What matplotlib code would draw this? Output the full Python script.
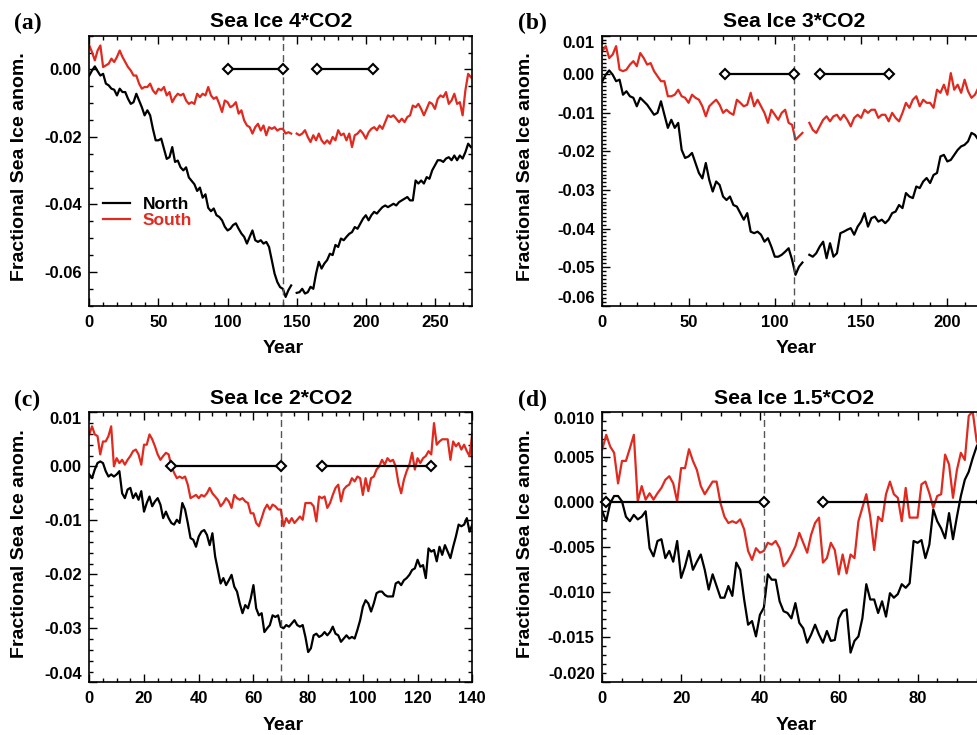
import numpy as np
import matplotlib
matplotlib.use('Agg')
import matplotlib.pyplot as plt
from matplotlib.ticker import MultipleLocator, FormatStrFormatter

plt.rcParams['font.family'] = ['Liberation Sans', 'DejaVu Sans']
plt.rcParams['font.weight'] = 'bold'

nan = np.nan
RED = '#e0291f'

# ---------------- Panel (a): Sea Ice 4*CO2 (every 2 years) ----------------
years_a = np.arange(0, 277, 2)
north_a = [
    -0.0018, -0.0003, 0.0009, -0.0005, -0.0018, -0.0013, -0.0042, -0.0047, -0.0057, -0.0060,
    -0.0077, -0.0057, -0.0067, -0.0067, -0.0087, -0.0102, -0.0097, -0.0072, -0.0092, -0.0112,
    -0.0136, -0.0121, -0.0136, -0.0176, -0.0210, -0.0210, -0.0205, -0.0235, -0.0265, -0.0260,
    -0.0230, -0.0274, -0.0270, -0.0290, -0.0299, -0.0290, -0.0320, -0.0330, -0.0340, -0.0360,
    -0.0350, -0.0380, -0.0370, -0.0410, -0.0420, -0.0412, -0.0432, -0.0437, -0.0447, -0.0466,
    -0.0477, -0.0472, -0.0461, -0.0456, -0.0472, -0.0486, -0.0496, -0.0516, -0.0496, -0.0477,
    -0.0506, -0.0511, -0.0506, -0.0516, -0.0511, -0.0526, -0.0566, -0.0605, -0.0630, -0.0645,
    -0.0650, -0.0674, -0.0654, -0.0640, nan, -0.0662, -0.0660, -0.0650, -0.0664, -0.0660,
    -0.0644, -0.0650, -0.0605, -0.0570, -0.0590, -0.0575, -0.0565, -0.0546, -0.0550, -0.0520,
    -0.0526, -0.0501, -0.0506, -0.0496, -0.0487, -0.0482, -0.0467, -0.0472, -0.0457, -0.0442,
    -0.0432, -0.0447, -0.0432, -0.0422, -0.0427, -0.0417, -0.0408, -0.0403, -0.0408, -0.0403,
    -0.0398, -0.0403, -0.0393, -0.0388, -0.0383, -0.0378, -0.0388, -0.0388, -0.0329, -0.0338,
    -0.0329, -0.0338, -0.0319, -0.0324, -0.0299, -0.0284, -0.0269, -0.0269, -0.0274, -0.0264,
    -0.0260, -0.0269, -0.0255, -0.0269, -0.0255, -0.0264, -0.0245, -0.0220, -0.0230]
south_a = [
    0.0071, 0.0051, 0.0027, 0.0056, 0.0071, 0.0007, 0.0012, 0.0017, 0.0032, 0.0022,
    0.0037, 0.0056, 0.0037, 0.0022, 0.0007, -0.0003, -0.0018, -0.0018, -0.0042, -0.0057,
    -0.0052, -0.0052, -0.0042, -0.0062, -0.0072, -0.0057, -0.0062, -0.0052, -0.0077, -0.0067,
    -0.0097, -0.0082, -0.0072, -0.0077, -0.0072, -0.0092, -0.0102, -0.0097, -0.0102, -0.0072,
    -0.0082, -0.0072, -0.0077, -0.0052, -0.0077, -0.0087, -0.0082, -0.0102, -0.0126, -0.0092,
    -0.0097, -0.0112, -0.0107, -0.0097, -0.0131, -0.0121, -0.0151, -0.0166, -0.0171, -0.0190,
    -0.0171, -0.0161, -0.0181, -0.0166, -0.0195, -0.0171, -0.0176, -0.0171, -0.0181, -0.0176,
    -0.0176, -0.0190, -0.0186, -0.0190, nan, -0.0190, -0.0195, -0.0190, -0.0180, -0.0200,
    -0.0215, -0.0195, -0.0210, -0.0190, -0.0210, -0.0220, -0.0210, -0.0220, -0.0200, -0.0210,
    -0.0180, -0.0195, -0.0190, -0.0210, -0.0190, -0.0230, -0.0195, -0.0190, -0.0180, -0.0190,
    -0.0205, -0.0186, -0.0176, -0.0171, -0.0180, -0.0166, -0.0176, -0.0156, -0.0136, -0.0141,
    -0.0136, -0.0146, -0.0156, -0.0146, -0.0156, -0.0141, -0.0136, -0.0107, -0.0112, -0.0102,
    -0.0117, -0.0136, -0.0117, -0.0097, -0.0102, -0.0117, -0.0087, -0.0077, -0.0082, -0.0067,
    -0.0102, -0.0092, -0.0072, -0.0102, -0.0097, -0.0136, -0.0062, -0.0013, -0.0023]

# ---------------- Panel (b): Sea Ice 3*CO2 (every 2 years) ----------------
years_b = np.arange(0, 223, 2)
north_b = [
    -0.0018, -0.0001, 0.0010, -0.0001, -0.0018, -0.0014, -0.0053, -0.0044, -0.0057, -0.0061,
    -0.0083, -0.0061, -0.0070, -0.0079, -0.0092, -0.0105, -0.0100, -0.0070, -0.0105, -0.0139,
    -0.0118, -0.0139, -0.0126, -0.0196, -0.0217, -0.0213, -0.0204, -0.0230, -0.0256, -0.0270,
    -0.0230, -0.0274, -0.0304, -0.0278, -0.0287, -0.0317, -0.0326, -0.0317, -0.0339, -0.0343,
    -0.0360, -0.0377, -0.0360, -0.0408, -0.0412, -0.0408, -0.0416, -0.0434, -0.0425, -0.0447,
    -0.0473, -0.0473, -0.0468, -0.0460, -0.0451, -0.0481, -0.0520, -0.0499, -0.0488, nan,
    -0.0468, -0.0473, -0.0464, -0.0447, -0.0434, -0.0477, -0.0438, -0.0473, -0.0464, -0.0412,
    -0.0408, -0.0403, -0.0399, -0.0416, -0.0395, -0.0382, -0.0360, -0.0395, -0.0373, -0.0369,
    -0.0382, -0.0377, -0.0386, -0.0377, -0.0360, -0.0356, -0.0339, -0.0347, -0.0308, -0.0317,
    -0.0321, -0.0291, -0.0295, -0.0278, -0.0269, -0.0282, -0.0261, -0.0256, -0.0213, -0.0209,
    -0.0226, -0.0222, -0.0209, -0.0196, -0.0187, -0.0183, -0.0174, -0.0152, -0.0157, -0.0170,
    -0.0165, -0.0160]
south_b = [
    0.0060, 0.0073, 0.0042, 0.0051, 0.0073, 0.0012, 0.0008, 0.0012, 0.0025, 0.0034,
    0.0021, 0.0055, 0.0042, 0.0025, 0.0029, 0.0008, -0.0005, -0.0018, -0.0018, -0.0057,
    -0.0057, -0.0053, -0.0040, -0.0057, -0.0061, -0.0074, -0.0053, -0.0061, -0.0066, -0.0083,
    -0.0109, -0.0083, -0.0074, -0.0066, -0.0079, -0.0100, -0.0092, -0.0100, -0.0105, -0.0066,
    -0.0074, -0.0083, -0.0079, -0.0048, -0.0083, -0.0066, -0.0083, -0.0100, -0.0126, -0.0092,
    -0.0105, -0.0118, -0.0100, -0.0092, -0.0126, -0.0131, -0.0170, -0.0161, -0.0152, nan,
    -0.0126, -0.0144, -0.0152, -0.0135, -0.0118, -0.0109, -0.0122, -0.0109, -0.0105, -0.0118,
    -0.0105, -0.0118, -0.0135, -0.0113, -0.0105, -0.0113, -0.0092, -0.0100, -0.0092, -0.0092,
    -0.0113, -0.0105, -0.0105, -0.0122, -0.0100, -0.0113, -0.0122, -0.0100, -0.0074, -0.0087,
    -0.0066, -0.0057, -0.0083, -0.0066, -0.0074, -0.0074, -0.0087, -0.0040, -0.0048, -0.0027,
    -0.0053, 0.0003, -0.0040, -0.0027, -0.0048, -0.0014, -0.0044, -0.0061, -0.0053, -0.0035,
    -0.0040, -0.0030]

# ---------------- Panel (c): Sea Ice 2*CO2 (annual) ----------------
years_c = np.arange(0, 141)
north_c = [
    -0.0015, -0.0022, -0.0006, 0.0006, 0.0009, 0.0006, -0.0009, -0.0019, -0.0015, -0.0019,
    -0.0015, -0.0009, -0.0050, -0.0059, -0.0043, -0.0040, -0.0059, -0.0050, -0.0062, -0.0046,
    -0.0084, -0.0068, -0.0056, -0.0074, -0.0065, -0.0059, -0.0071, -0.0096, -0.0084, -0.0096,
    -0.0105, -0.0108, -0.0099, -0.0105, -0.0068, -0.0080, -0.0105, -0.0133, -0.0136, -0.0149,
    -0.0130, -0.0121, -0.0118, -0.0127, -0.0146, -0.0124, -0.0167, -0.0192, -0.0217, -0.0207,
    -0.0220, -0.0211, -0.0201, -0.0223, -0.0232, -0.0254, -0.0272, -0.0257, -0.0263, -0.0245,
    -0.0220, -0.0263, -0.0276, -0.0272, -0.0307, -0.0300, -0.0294, -0.0276, -0.0279, -0.0276,
    -0.0297, -0.0300, -0.0294, -0.0297, -0.0291, -0.0285, -0.0294, -0.0297, -0.0294, -0.0316,
    -0.0344, -0.0337, -0.0313, -0.0310, -0.0316, -0.0313, -0.0307, -0.0313, -0.0307, -0.0297,
    -0.0310, -0.0313, -0.0325, -0.0319, -0.0313, -0.0319, -0.0316, -0.0319, -0.0303, -0.0285,
    -0.0260, -0.0248, -0.0254, -0.0269, -0.0254, -0.0235, -0.0232, -0.0232, -0.0238, -0.0241,
    -0.0241, -0.0241, -0.0217, -0.0214, -0.0220, -0.0211, -0.0207, -0.0201, -0.0192, -0.0189,
    -0.0173, -0.0186, -0.0183, -0.0207, -0.0152, -0.0158, -0.0155, -0.0176, -0.0149, -0.0164,
    -0.0146, -0.0158, -0.0170, -0.0149, -0.0130, -0.0108, -0.0111, -0.0108, -0.0096, -0.0121,
    -0.0108]
south_c = [
    0.0059, 0.0074, 0.0059, 0.0056, 0.0022, 0.0046, 0.0046, 0.0056, 0.0074, 0.0000,
    0.0015, 0.0006, 0.0012, 0.0003, 0.0012, 0.0019, 0.0028, 0.0031, 0.0022, 0.0003,
    0.0040, 0.0040, 0.0059, 0.0050, 0.0037, 0.0022, 0.0012, 0.0019, 0.0025, 0.0022,
    0.0000, -0.0012, -0.0022, -0.0019, -0.0022, -0.0019, -0.0034, -0.0059, -0.0056, -0.0053,
    -0.0059, -0.0053, -0.0056, -0.0050, -0.0040, -0.0050, -0.0056, -0.0062, -0.0074, -0.0068,
    -0.0059, -0.0065, -0.0077, -0.0053, -0.0059, -0.0062, -0.0059, -0.0065, -0.0068, -0.0087,
    -0.0087, -0.0105, -0.0111, -0.0096, -0.0080, -0.0071, -0.0080, -0.0071, -0.0074, -0.0080,
    -0.0080, -0.0111, -0.0096, -0.0105, -0.0096, -0.0105, -0.0099, -0.0093, -0.0099, -0.0068,
    -0.0068, -0.0068, -0.0074, -0.0102, -0.0056, -0.0059, -0.0056, -0.0077, -0.0068, -0.0053,
    -0.0040, -0.0034, -0.0065, -0.0043, -0.0037, -0.0034, -0.0022, -0.0028, -0.0019, -0.0022,
    -0.0053, -0.0022, -0.0046, -0.0022, -0.0019, -0.0006, 0.0000, 0.0012, 0.0003, 0.0015,
    0.0009, 0.0012, 0.0000, -0.0031, -0.0050, -0.0025, -0.0009, 0.0003, 0.0025, -0.0006,
    0.0015, 0.0006, 0.0015, 0.0019, 0.0028, 0.0022, 0.0080, 0.0040, 0.0046, 0.0050,
    0.0050, 0.0050, 0.0012, 0.0046, 0.0037, 0.0043, 0.0031, 0.0040, 0.0028, 0.0019,
    0.0062]

# ---------------- Panel (d): Sea Ice 1.5*CO2 (annual) ----------------
years_d = np.arange(0, 98)
north_d = [
    -0.0010, -0.0021, -0.0001, 0.0007, 0.0007, 0.0001, -0.0016, -0.0021, -0.0014, -0.0019,
    -0.0016, -0.0010, -0.0051, -0.0060, -0.0043, -0.0041, -0.0062, -0.0054, -0.0066, -0.0043,
    -0.0084, -0.0071, -0.0054, -0.0075, -0.0066, -0.0058, -0.0075, -0.0097, -0.0080, -0.0093,
    -0.0106, -0.0106, -0.0093, -0.0104, -0.0067, -0.0075, -0.0108, -0.0136, -0.0132, -0.0149,
    -0.0125, -0.0117, -0.0080, -0.0086, -0.0086, -0.0110, -0.0121, -0.0123, -0.0129, -0.0112,
    -0.0134, -0.0140, -0.0156, -0.0147, -0.0136, -0.0147, -0.0156, -0.0143, -0.0154, -0.0153,
    -0.0129, -0.0121, -0.0119, -0.0167, -0.0154, -0.0149, -0.0129, -0.0091, -0.0108, -0.0108,
    -0.0123, -0.0110, -0.0127, -0.0101, -0.0106, -0.0102, -0.0091, -0.0095, -0.0090, -0.0043,
    -0.0045, -0.0042, -0.0062, -0.0047, -0.0008, -0.0021, -0.0029, -0.0040, -0.0012, -0.0041,
    -0.0016, 0.0007, 0.0025, 0.0034, 0.0049, 0.0062, 0.0070, 0.0075]
south_d = [
    0.0059, 0.0075, 0.0062, 0.0055, 0.0021, 0.0046, 0.0046, 0.0060, 0.0075, 0.0001,
    0.0018, 0.0003, 0.0010, 0.0003, 0.0010, 0.0016, 0.0025, 0.0029, 0.0021, 0.0001,
    0.0038, 0.0038, 0.0059, 0.0046, 0.0036, 0.0018, 0.0009, 0.0016, 0.0023, 0.0023,
    -0.0001, -0.0016, -0.0023, -0.0021, -0.0023, -0.0019, -0.0030, -0.0054, -0.0064, -0.0051,
    -0.0056, -0.0054, -0.0045, -0.0047, -0.0043, -0.0051, -0.0071, -0.0066, -0.0058, -0.0049,
    -0.0034, -0.0045, -0.0056, -0.0036, -0.0023, -0.0017, -0.0067, -0.0062, -0.0045, -0.0053,
    -0.0080, -0.0058, -0.0079, -0.0058, -0.0062, -0.0021, -0.0006, 0.0009, -0.0016, -0.0053,
    -0.0016, -0.0021, 0.0009, 0.0023, 0.0009, 0.0005, -0.0021, 0.0016, -0.0017, -0.0017,
    -0.0017, 0.0020, 0.0023, 0.0010, -0.0006, 0.0007, 0.0009, 0.0053, 0.0042, 0.0005,
    0.0036, 0.0055, 0.0047, 0.0096, 0.0101, 0.0068, 0.0060, 0.0055]

# averaging windows (diamond segments) and turnaround years
windows_a = [(100, 140), (165, 205)]
windows_b = [(71, 111), (126, 166)]
windows_c = [(30, 70), (85, 125)]
windows_d = [(1, 41), (56, 96)]
turn_a, turn_b, turn_c, turn_d = 140, 111, 70, 41

titles = ['Sea Ice 4*CO2', 'Sea Ice 3*CO2', 'Sea Ice 2*CO2', 'Sea Ice 1.5*CO2']
panel_labels = ['(a)', '(b)', '(c)', '(d)']

yticks_a = [-0.06, -0.04, -0.02, 0.00]
yticks_b = [-0.06, -0.05, -0.04, -0.03, -0.02, -0.01, 0.00, 0.01]
yticks_c = [-0.04, -0.03, -0.02, -0.01, 0.00, 0.01]
yticks_d = [-0.020, -0.015, -0.010, -0.005, 0.000, 0.005, 0.010]
xticks_a = [0, 50, 100, 150, 200, 250]
xticks_b = [0, 50, 100, 150, 200]
xticks_c = [0, 20, 40, 60, 80, 100, 120, 140]
xticks_d = [0, 20, 40, 60, 80]

W, H = 977.0, 735.0
fig = plt.figure(figsize=(9.77, 7.35), dpi=100)

AX_W, AX_H = 383.0, 270.0
panels = [
    dict(left=89.3, top=35.7, years=years_a, north=north_a, south=south_a,
         xlim=(0, 277), ylim=(-0.07, 0.01), xt=xticks_a, xminor=10, yt=yticks_a,
         yminor=0.005, yfmt='%.2f', win=windows_a, turn=turn_a, shift_ends=False),
    dict(left=602.3, top=35.7, years=years_b, north=north_b, south=south_b,
         xlim=(0, 222), ylim=(-0.06, 0.01), xt=xticks_b, xminor=10, yt=yticks_b,
         yminor=0.001, yfmt='%.2f', win=windows_b, turn=turn_b, shift_ends=True),
    dict(left=89.3, top=412.3, years=years_c, north=north_c, south=south_c,
         xlim=(0, 140), ylim=(-0.04, 0.01), xt=xticks_c, xminor=5, yt=yticks_c,
         yminor=0.002, yfmt='%.2f', win=windows_c, turn=turn_c, shift_ends=True),
    dict(left=602.3, top=412.3, years=years_d, north=north_d, south=south_d,
         xlim=(0, 97.2), ylim=(-0.020, 0.010), xt=xticks_d, xminor=5, yt=yticks_d,
         yminor=0.001, yfmt='%.3f', win=windows_d, turn=turn_d, shift_ends=True),
]

for i, p in enumerate(panels):
    ax = fig.add_axes([p['left'] / W, 1 - (p['top'] + AX_H) / H, AX_W / W, AX_H / H])
    ln_n, = ax.plot(p['years'], p['north'], color='black', lw=1.6, label='North')
    ln_s, = ax.plot(p['years'], p['south'], color=RED, lw=1.6, label='South')
    ax.axvline(p['turn'], color='#555555', lw=1.0, dashes=(5, 3))
    for (x0, x1) in p['win']:
        ax.plot([x0, x1], [0, 0], color='black', lw=1.6, marker='D', ms=5.5,
                mfc='white', mec='black', mew=1.5, zorder=5, clip_on=False)
    ax.set_xlim(*p['xlim'])
    ax.set_ylim(*p['ylim'])
    ax.set_xticks(p['xt'])
    ax.set_yticks(p['yt'])
    ax.xaxis.set_minor_locator(MultipleLocator(p['xminor']))
    ax.yaxis.set_minor_locator(MultipleLocator(p['yminor']))
    ax.xaxis.set_major_formatter(FormatStrFormatter('%d'))
    ax.yaxis.set_major_formatter(FormatStrFormatter(p['yfmt']))
    ax.tick_params(which='both', direction='in', top=True, right=True, width=1.0,
                   labelsize=12)
    ax.tick_params(which='major', length=5.5)
    ax.tick_params(which='minor', length=3)
    ax.tick_params(axis='x', pad=6.5)
    ax.tick_params(axis='y', pad=5.5)
    for s in ax.spines.values():
        s.set_linewidth(1.2)
    for lab in ax.get_xticklabels() + ax.get_yticklabels():
        lab.set_fontweight('bold')
    if p['shift_ends']:
        ylabs = ax.get_yticklabels()
        ylabs[0].set_verticalalignment('bottom')
        ylabs[-1].set_verticalalignment('top')
    ax.set_title(titles[i], fontsize=15.2, fontweight='bold', pad=6)

    # panel label, y label, x label
    lx = 14 if p['left'] < 300 else 518
    ly = p['top'] - 12
    fig.text(lx / W, 1 - ly / H, panel_labels[i], family='Liberation Serif',
             fontweight='bold', fontsize=17, ha='left', va='center')
    ylx = 20 if p['left'] < 300 else 525
    yly = p['top'] + 131
    fig.text(ylx / W, 1 - yly / H, 'Fractional Sea Ice anom.', rotation=90,
             fontsize=14, fontweight='bold', ha='center', va='center')
    xlx = p['left'] + 193.5
    xly = p['top'] + 313
    fig.text(xlx / W, 1 - xly / H, 'Year', fontsize=14, fontweight='bold',
             ha='center', va='center')

    if i == 0:
        ax.legend(handles=[ln_n, ln_s], loc='center left',
                  bbox_to_anchor=(0.036, 0.344), frameon=False, handlelength=1.55,
                  handletextpad=0.75, labelspacing=0.05, borderpad=0,
                  borderaxespad=0, prop={'weight': 'bold', 'size': 12.5},
                  labelcolor='linecolor')

fig.savefig('out.png', dpi=100)
